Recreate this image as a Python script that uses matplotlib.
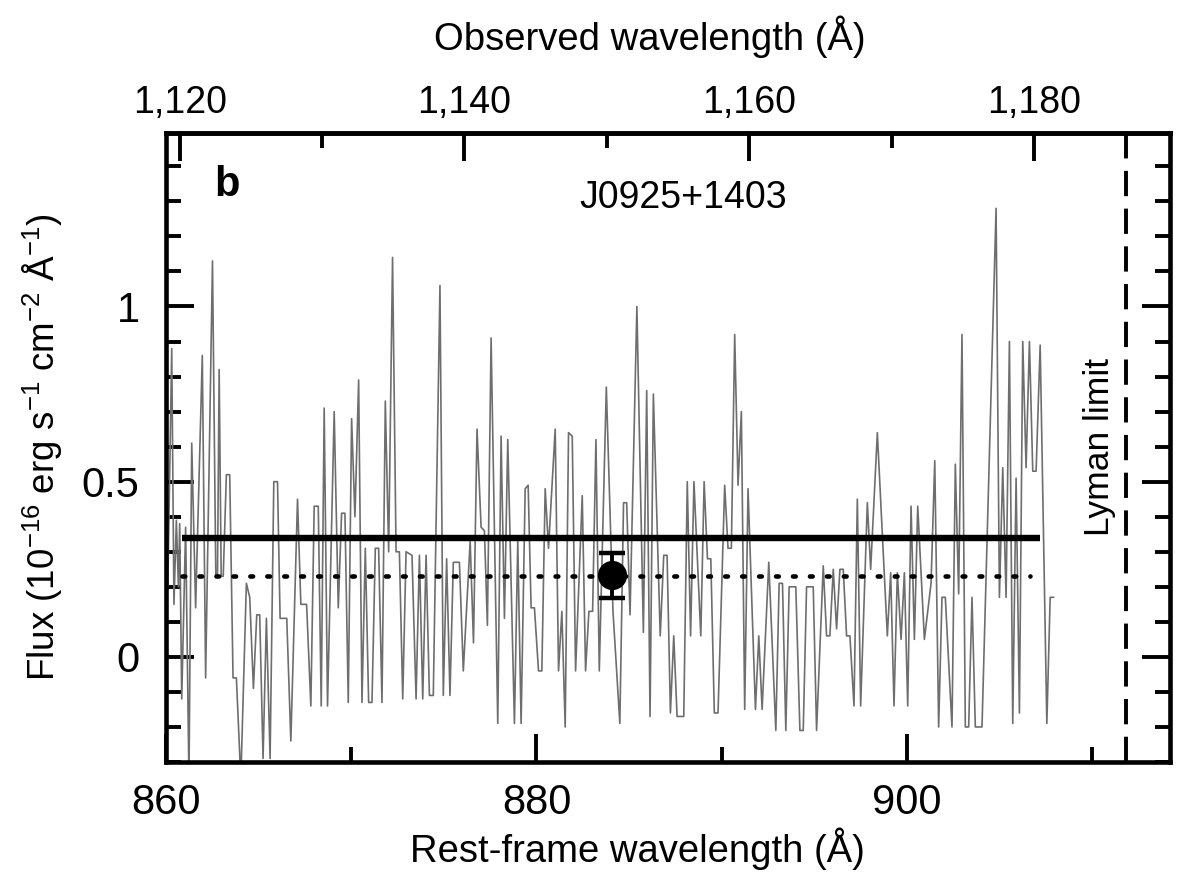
import matplotlib
matplotlib.use("Agg")
import matplotlib.pyplot as plt
from matplotlib.ticker import MultipleLocator, FixedLocator, FuncFormatter

plt.rcParams['font.family'] = ['Liberation Sans', 'DejaVu Sans']
plt.rcParams['mathtext.fontset'] = 'custom'
plt.rcParams['mathtext.rm'] = 'Liberation Sans'
plt.rcParams['mathtext.it'] = 'Liberation Sans:italic'
plt.rcParams['mathtext.bf'] = 'Liberation Sans:bold'

# redshift of J0925+1403 (links rest-frame and observed axes)
z = 0.3012

# rest-frame wavelength (A) and flux (1e-16 erg/s/cm2/A)
wave = [860.10, 860.31, 860.43, 860.56, 860.67, 860.74, 860.85, 861.06, 861.24, 861.39,
        861.60, 861.96, 862.14, 862.51, 862.69, 862.78, 862.87, 862.98, 863.09, 863.26,
        863.44, 863.62, 863.80, 864.04, 864.34, 864.52, 864.72, 864.90, 865.06, 865.24,
        865.42, 865.62, 865.82, 866.02, 866.16, 866.52, 866.74, 867.10, 867.28, 867.59,
        867.82, 868.00, 868.22, 868.38, 868.54, 868.72, 869.08, 869.30, 869.48, 869.66,
        869.84, 870.02, 870.20, 870.40, 870.58, 870.76, 870.94, 871.12, 871.30, 871.48,
        871.66, 871.84, 872.02, 872.23, 872.42, 872.60, 872.78, 872.96, 873.28, 873.50,
        873.68, 873.86, 874.04, 874.22, 874.43, 874.79, 874.97, 875.15, 875.33, 875.51,
        875.84, 876.05, 876.42, 876.60, 876.79, 877.01, 877.19, 877.35, 877.55, 877.91,
        878.09, 878.27, 878.45, 878.81, 878.99, 879.17, 879.39, 879.55, 879.71, 879.89,
        880.11, 880.29, 880.47, 880.65, 881.01, 881.19, 881.37, 881.55, 881.73, 881.93,
        882.11, 882.47, 882.65, 882.83, 883.03, 883.21, 883.39, 883.77, 884.13, 884.50,
        884.70, 884.87, 885.05, 885.42, 885.77, 885.95, 886.13, 886.31, 886.68, 886.87,
        887.05, 887.23, 887.41, 887.59, 887.95, 888.14, 888.32, 888.50, 888.87, 889.05,
        889.23, 889.41, 889.60, 889.80, 890.16, 890.34, 890.52, 890.70, 890.88, 891.06,
        891.24, 891.42, 891.82, 892.00, 892.18, 892.54, 892.92, 893.10, 893.28, 893.46,
        893.64, 894.00, 894.22, 894.40, 894.58, 894.94, 895.12, 895.48, 895.66, 895.84,
        896.02, 896.20, 896.38, 896.56, 896.74, 896.92, 897.14, 897.32, 897.50, 897.86,
        898.04, 898.40, 898.94, 899.12, 899.30, 899.48, 899.68, 899.86, 900.04, 900.22,
        900.40, 900.58, 900.94, 901.30, 901.50, 901.71, 901.89, 902.07, 902.43, 902.61,
        902.79, 902.97, 903.15, 903.33, 903.51, 903.69, 904.05, 904.81, 904.99, 905.17,
        905.35, 905.53, 905.71, 905.89, 906.07, 906.25, 906.43, 906.61, 906.79, 906.97,
        907.19, 907.55, 907.73, 907.91]
flux = [0.20, 0.88, 0.15, 0.39, 0.20, 0.38, -0.12, 0.37, -0.35, 0.61,
        0.14, 0.86, -0.06, 1.13, 0.23, 0.23, 0.82, 0.23, 0.23, 0.52,
        0.52, -0.06, -0.06, -0.35, 0.21, 0.17, -0.09, 0.12, 0.12, -0.29,
        0.11, -0.29, 0.50, 0.50, 0.11, 0.11, -0.24, 0.45, 0.15, 0.15,
        -0.14, 0.43, 0.43, -0.14, 0.71, -0.14, 0.70, 0.14, 0.41, 0.41,
        -0.13, 0.68, 0.40, 0.79, -0.13, 0.31, -0.13, -0.13, 0.31, 0.31,
        -0.13, 0.73, 0.30, 1.14, 0.30, 0.30, -0.12, 0.30, 0.29, -0.12,
        0.29, -0.12, 0.29, -0.11, -0.11, 1.06, -0.11, 0.28, -0.11, 0.27,
        0.27, -0.04, 0.33, 0.04, 0.65, 0.37, 0.36, 0.09, 0.91, -0.19,
        0.63, 0.11, 0.62, -0.19, 0.33, -0.19, 0.48, 0.49, 0.14, 0.14,
        -0.04, -0.04, 0.48, 0.31, 0.65, -0.04, 0.13, -0.20, 0.64, 0.63,
        -0.04, 0.46, -0.04, 0.13, 0.13, 0.62, -0.04, 0.77, 0.13, -0.19,
        0.44, 0.44, 0.12, 1.00, 0.07, 0.76, -0.17, 0.75, 0.06, 0.29,
        0.29, -0.16, 0.06, -0.17, -0.17, 0.50, 0.06, 0.50, 0.06, 0.50,
        0.28, 0.28, -0.16, -0.16, 0.49, 0.31, 0.31, 0.92, 0.49, 0.70,
        -0.15, 0.48, -0.15, 0.06, -0.15, 0.27, -0.21, 0.21, 0.21, -0.21,
        0.20, 0.20, -0.21, -0.21, 0.20, 0.20, -0.21, 0.26, 0.06, 0.06,
        0.25, 0.08, 0.25, 0.25, 0.06, 0.06, -0.14, 0.45, -0.14, 0.44,
        0.25, 0.64, 0.06, 0.24, -0.14, 0.24, 0.05, 0.24, -0.14, 0.43,
        0.05, 0.43, 0.05, 0.21, 0.56, -0.20, 0.17, 0.17, -0.20, 0.55,
        0.18, 0.92, -0.20, -0.20, 0.17, -0.20, -0.20, 1.28, 0.17, 0.54,
        0.17, 0.90, -0.19, 0.51, -0.16, 0.90, 0.54, 0.90, 0.53, 0.53,
        0.89, -0.19, 0.17, 0.17]

# mean fluxes and the measured point
mean_range = [860.86, 907.19]
mean_flux = 0.34
model_range = [860.86, 906.65]
model_flux = 0.232
point_wave = 884.09
point_flux = 0.233
point_err = 0.064
lyman_limit = 911.8

fig = plt.figure(figsize=(11.95, 8.84), dpi=100)
ax = fig.add_axes([0.1389, 0.1380, 0.8402, 0.7115])

ax.plot(wave, flux, color='#6e6e6e', lw=1.2)
ax.plot(mean_range, [mean_flux, mean_flux], color='black', lw=4.6, solid_capstyle='butt')
ax.plot(model_range, [model_flux, model_flux], color='black', lw=3.3,
        dashes=(0.6, 3.1), dash_capstyle='round')
ax.errorbar(point_wave, point_flux, yerr=point_err, fmt='o', color='black',
            ms=20, capsize=9.5, elinewidth=2.8, capthick=3.2)
ax.axvline(lyman_limit, color='black', lw=2.8, dashes=(6.5, 3.2))

ax.set_xlim(860, 914.2)
ax.set_ylim(-0.3, 1.495)

ax.xaxis.set_major_locator(FixedLocator([860, 880, 900]))
ax.xaxis.set_minor_locator(FixedLocator([870, 890, 910]))
ax.yaxis.set_major_locator(FixedLocator([0, 0.5, 1]))
ax.yaxis.set_major_formatter(FuncFormatter(lambda v, p: '%g' % v))
ax.yaxis.set_minor_locator(MultipleLocator(0.1))

ax.tick_params(which='both', direction='in', top=False, right=True,
               width=2.8, labelsize=30)
ax.tick_params(which='major', length=20)
ax.tick_params(which='minor', length=11)
ax.tick_params(axis='x', pad=15)
ax.tick_params(axis='y', pad=19)
for s in ax.spines.values():
    s.set_linewidth(3.3)

secax = ax.secondary_xaxis('top', functions=(lambda w: w * (1 + z), lambda o: o / (1 + z)))
secax.xaxis.set_major_locator(FixedLocator([1120, 1140, 1160, 1180]))
secax.xaxis.set_minor_locator(FixedLocator([1130, 1150, 1170]))
secax.xaxis.set_major_formatter(FuncFormatter(lambda v, p: '{:,.0f}'.format(v)))
secax.tick_params(which='both', direction='in', width=2.8, labelsize=27, pad=9)
secax.tick_params(which='major', length=20)
secax.tick_params(which='minor', length=11)
secax.spines['top'].set_linewidth(3.3)
fig.text(650 / 1195, 1 - 37 / 884, 'Observed wavelength (Å)', fontsize=27.5,
         ha='center', va='center')

ax.set_xlabel('Rest-frame wavelength (Å)', fontsize=27.5)
ax.xaxis.set_label_coords(0.470, -0.104)
ax.set_ylabel('Flux (10$^{-16}$ erg s$^{-1}$ cm$^{-2}$ Å$^{-1}$)', fontsize=26.5, labelpad=12)

ax.text(863.3, 1.346, 'b', fontsize=30, fontweight='bold', ha='center', va='center')
ax.text(887.9, 1.31, 'J0925+1403', fontsize=27, ha='center', va='center')
ax.text(910.4, 0.60, 'Lyman limit', fontsize=25.5, rotation=90, ha='center', va='center')

fig.savefig('out.png', dpi=100)
